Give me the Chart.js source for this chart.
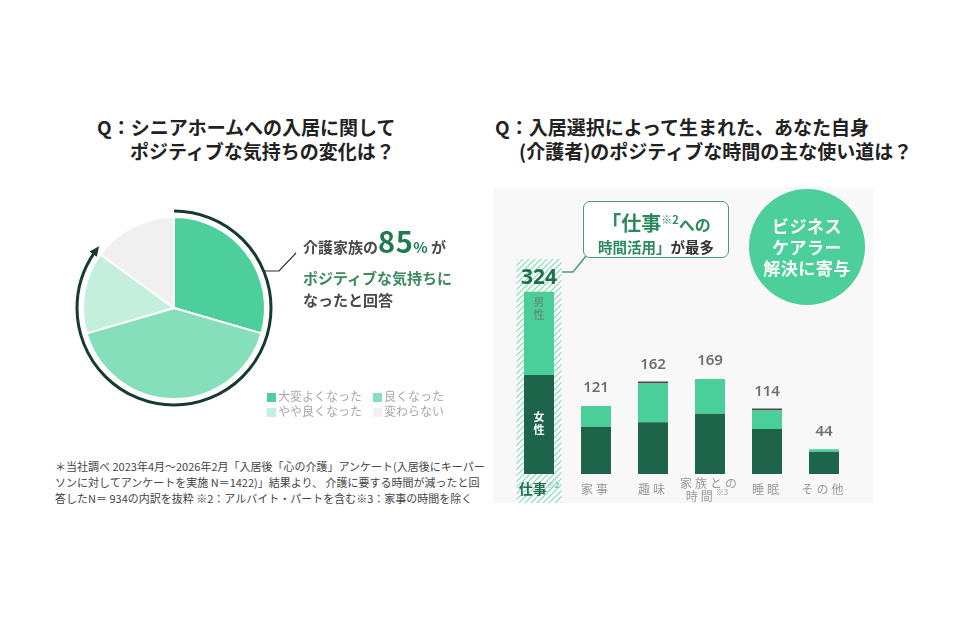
<!DOCTYPE html>
<html lang="ja">
<head>
<meta charset="utf-8">
<script src="https://cdn.jsdelivr.net/npm/chart.js"></script>
<style>
  body { margin: 0; background: #fff; font-family: "Noto Sans CJK JP", "Noto Sans", sans-serif; }
  #page { position: relative; width: 955px; height: 630px; overflow: hidden; }
  .abs { position: absolute; white-space: nowrap; }
  .title { font-size: 19px; font-weight: 700; color: #222; line-height: 24px; }
  .lead { font-size: 15px; font-weight: 700; color: #4a4a4a; line-height: 22px; }
  .legend { font-size: 12px; color: #a8a8a8; line-height: 15px; }
  .legend i { display: inline-block; width: 9px; height: 9px; margin-right: 2px; vertical-align: -1px; }
  .note { font-size: 11px; color: #444; line-height: 16px; }
  #callout { left: 583px; top: 201px; width: 144px; height: 55px; border: 1.5px solid #4c9a74; border-radius: 7px; background: #fff; text-align: center; font-weight: 700; }
  #badge { left: 749px; top: 189px; width: 116px; height: 116px; border-radius: 50%; background: #4ccf9a; color: #fff; text-align: center; font-weight: 700; font-size: 17px; line-height: 21px; letter-spacing: 0.5px; }
  canvas { position: absolute; }
</style>
</head>
<body>
<div id="page">
  <div class="abs title" style="left:97px; top:115px;">Q：シニアホームへの入居に関して</div>
  <div class="abs title" style="left:130px; top:139px;">ポジティブな気持ちの変化は？</div>
  <div class="abs title" style="left:495px; top:115px;">Q：入居選択によって生まれた、あなた自身</div>
  <div class="abs title" style="left:519px; top:139px;">(介護者)のポジティブな時間の主な使い道は？</div>

  <canvas id="pie" width="260" height="260" style="left:44px; top:178px;"></canvas>

  <div class="abs lead" style="left:303px; top:229px;">介護家族の<span style="font-size:29px; color:#1f7a4d; letter-spacing:0.5px;">85</span><span style="font-size:15px; color:#1f7a4d;">%</span> が</div>
  <div class="abs lead" style="left:303px; top:267px; color:#3a8a5c;">ポジティブな気持ちに</div>
  <div class="abs lead" style="left:303px; top:289px;">なったと回答</div>

  <div id="pieLegend"></div>

  <div class="abs note" style="left:55px; top:458px;">＊当社調べ 2023年4月～2026年2月「入居後「心の介護」アンケート(入居後にキーパー<br>ソンに対してアンケートを実施 N＝1422)」結果より、 介護に要する時間が減ったと回<br>答したN＝ 934の内訳を抜粋 ※2：アルバイト・パートを含む※3：家事の時間を除く</div>

  <canvas id="bar" width="380" height="316" style="left:493px; top:187px; background:#f8f8f8;"></canvas>

  <svg class="abs" style="left:0; top:0;" width="955" height="630">
    <polyline points="265,271 279,271 296,253" fill="none" stroke="#2e2e2e" stroke-width="1.2"/>
    <polyline points="562,272 573,272 586,256" fill="none" stroke="#4c9a74" stroke-width="1.5"/>
  </svg>

  <div id="callout" class="abs">
    <div style="margin-top:4px; line-height:26px; color:#2a8a5c;"><span style="font-size:20px;">「仕事</span><span style="font-size:11px; vertical-align:7px;">※2</span><span style="font-size:16px;">への</span></div>
    <div style="line-height:20px; font-size:14.5px;"><span style="color:#2a8a5c;">時間活用」</span><span style="color:#333;">が最多</span></div>
  </div>

  <div id="badge" class="abs"><div style="padding-top:26px;">ビジネス<br>ケアラー<br>解決に寄与</div></div>
</div>

<script>
// pie data
var pieLabels = ['大変よくなった', '良くなった', 'やや良くなった', '変わらない'];
var pieValues = [29.5, 41, 14.5, 15];
var pieColors = ['#4ccf9a', '#86dfbb', '#c4efdc', '#f0f0f0'];
var positiveShare = 85;

// bar data
var categories = ['仕事', '家事', '趣味', '家族との時間', '睡眠', 'その他'];
var tickLabels = [['仕事※2'], ['家事'], ['趣味'], ['家族との', '時間※3'], ['睡眠'], ['その他']];
var femaleValues = [176, 84, 92, 107, 80, 39];
var maleValues = [148, 37, 69, 62, 33, 5];
var otherValues = [null, null, 1, null, 1, null];

// html legend for the pie
var legendPos = [[267, 388], [373, 388], [267, 403], [373, 403]];
var lg = document.getElementById('pieLegend');
pieLabels.forEach(function (l, i) {
    var d = document.createElement('div');
    d.className = 'abs legend';
    d.style.left = legendPos[i][0] + 'px';
    d.style.top = legendPos[i][1] + 'px';
    d.innerHTML = '<i style="background:' + pieColors[i] + '"></i>' + l;
    lg.appendChild(d);
});

// arrow arc around the pie showing the positive share
var arrowArc = {
    id: 'arrowArc',
    afterDatasetsDraw: function (chart) {
        var a = chart.getDatasetMeta(0).data[0];
        var ctx = chart.ctx;
        var R = a.outerRadius + 6;
        var start = -Math.PI / 2;
        var end = start + Math.PI * 2 * positiveShare / 100;
        ctx.save();
        ctx.strokeStyle = '#173b2c';
        ctx.fillStyle = '#173b2c';
        ctx.lineWidth = 3;
        ctx.beginPath();
        ctx.arc(a.x, a.y, R, start, end - 0.03);
        ctx.stroke();
        var px = a.x + R * Math.cos(end), py = a.y + R * Math.sin(end);
        var tx = -Math.sin(end), ty = Math.cos(end);
        var nx = Math.cos(end), ny = Math.sin(end);
        ctx.beginPath();
        ctx.moveTo(px + tx * 6, py + ty * 6);
        ctx.lineTo(px - tx * 4 + nx * 4.5, py - ty * 4 + ny * 4.5);
        ctx.lineTo(px - tx * 4 - nx * 4.5, py - ty * 4 - ny * 4.5);
        ctx.closePath();
        ctx.fill();
        ctx.restore();
    }
};

new Chart(document.getElementById('pie'), {
    type: 'pie',
    data: {
        labels: pieLabels,
        datasets: [{
            data: pieValues,
            backgroundColor: pieColors,
            borderColor: '#ffffff',
            borderWidth: 2
        }]
    },
    options: {
        responsive: false,
        animation: false,
        events: [],
        radius: 91,
        plugins: { legend: { display: false }, tooltip: { enabled: false } }
    },
    plugins: [arrowArc]
});

// decorations for the bar chart: hatch column, totals, labels
var barDeco = {
    id: 'barDeco',
    beforeDatasetsDraw: function (chart) {
        var ctx = chart.ctx;
        var x0 = chart.scales.x.getPixelForValue(0);
        var p = document.createElement('canvas');
        p.width = 6; p.height = 6;
        var pc = p.getContext('2d');
        pc.fillStyle = '#ffffff';
        pc.fillRect(0, 0, 6, 6);
        pc.strokeStyle = '#93ddbd';
        pc.lineWidth = 1.3;
        pc.beginPath();
        pc.moveTo(0, 6); pc.lineTo(6, 0);
        pc.moveTo(-1, 1); pc.lineTo(1, -1);
        pc.moveTo(5, 7); pc.lineTo(7, 5);
        pc.stroke();
        ctx.save();
        ctx.fillStyle = ctx.createPattern(p, 'repeat');
        ctx.fillRect(x0 - 22.5, 72, 45, chart.height - 72);
        ctx.restore();
    },
    afterDatasetsDraw: function (chart) {
        var ctx = chart.ctx;
        var xs = chart.scales.x, ys = chart.scales.y;
        var bottom = chart.chartArea.bottom;
        ctx.save();
        ctx.textAlign = 'center';
        ctx.textBaseline = 'middle';
        categories.forEach(function (c, i) {
            var x = xs.getPixelForValue(i);
            var total = femaleValues[i] + maleValues[i] + (otherValues[i] || 0);
            var top = ys.getPixelForValue(total);
            if (i === 0) {
                ctx.font = '700 21px "Noto Sans", "Noto Sans CJK JP", sans-serif';
                ctx.fillStyle = '#1f6e4c';
                ctx.fillText(String(total), x, top - 14);
            } else {
                ctx.font = '600 15px "Noto Sans", "Noto Sans CJK JP", sans-serif';
                ctx.fillStyle = '#6e6e6e';
                ctx.fillText(String(total), x, top - 18);
            }
            // tick labels
            var lines = tickLabels[i];
            lines.forEach(function (line, k) {
                var y = lines.length > 1 ? bottom + 9 + k * 13 : bottom + 15;
                var parts = line.split('※');
                var main = parts[0];
                var sup = parts.length > 1 ? '※' + parts[1] : '';
                if (i === 0) {
                    ctx.font = '700 14px "Noto Sans CJK JP", sans-serif';
                    ctx.fillStyle = '#1f6e4c';
                    ctx.letterSpacing = '0px';
                } else {
                    ctx.font = '400 12px "Noto Sans CJK JP", sans-serif';
                    ctx.fillStyle = '#9a9a9a';
                    ctx.letterSpacing = '3px';
                }
                var w = ctx.measureText(main).width;
                ctx.font = (i === 0 ? '700 ' : '400 ') + '8px "Noto Sans CJK JP", sans-serif';
                var ws = sup ? ctx.measureText(sup).width : 0;
                var left = x - (w + ws) / 2;
                ctx.textAlign = 'left';
                ctx.font = i === 0 ? '700 14px "Noto Sans CJK JP", sans-serif' : '400 12px "Noto Sans CJK JP", sans-serif';
                ctx.fillText(main, left, y);
                if (sup) {
                    ctx.font = (i === 0 ? '700 ' : '400 ') + '8px "Noto Sans CJK JP", sans-serif';
                    ctx.fillStyle = i === 0 ? '#7fb9a0' : '#9a9a9a';
                    ctx.letterSpacing = '0px';
                    ctx.fillText(sup, left + w, y - 4);
                }
                ctx.textAlign = 'center';
            });
            ctx.letterSpacing = '0px';
        });
        // gender labels inside the first bar
        var x0 = xs.getPixelForValue(0);
        var fTop = ys.getPixelForValue(femaleValues[0]);
        var mTop = ys.getPixelForValue(femaleValues[0] + maleValues[0]);
        ctx.font = '700 11px "Noto Sans CJK JP", sans-serif';
        ctx.fillStyle = '#5b9c7d';
        ctx.fillText('男', x0, mTop + 10);
        ctx.fillText('性', x0, mTop + 23);
        ctx.fillStyle = '#ffffff';
        ctx.fillText('女', x0, (fTop + bottom) / 2 - 8);
        ctx.fillText('性', x0, (fTop + bottom) / 2 + 5);
        ctx.restore();
    }
};

new Chart(document.getElementById('bar'), {
    type: 'bar',
    data: {
        labels: categories,
        datasets: [
            { label: '女性', data: femaleValues, backgroundColor: '#1d644a' },
            { label: '男性', data: maleValues, backgroundColor: '#4bcf9a' },
            { label: 'その他', data: otherValues, backgroundColor: '#4a4a4a', minBarLength: 2 }
        ]
    },
    options: {
        responsive: false,
        animation: false,
        events: [],
        layout: { padding: { left: 17.5, right: 20.5, top: 62, bottom: 29 } },
        datasets: { bar: { categoryPercentage: 1, barPercentage: 0.526 } },
        scales: {
            x: { stacked: true, display: false },
            y: { stacked: true, display: false, min: 0, max: 400 }
        },
        plugins: { legend: { display: false }, tooltip: { enabled: false } }
    },
    plugins: [barDeco]
});
</script>
</body>
</html>
